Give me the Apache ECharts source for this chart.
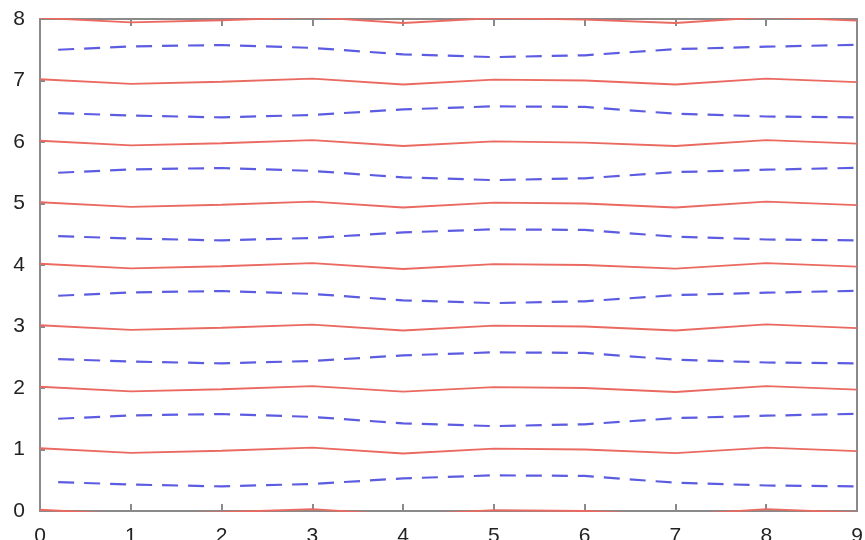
<!DOCTYPE html>
<html>
<head>
<meta charset="utf-8">
<script src="https://cdn.jsdelivr.net/npm/echarts@6/dist/echarts.min.js"></script>
<style>html,body{margin:0;padding:0;background:#fff;}#c{width:865px;height:540px;}</style>
</head>
<body>
<div id="c"></div>
<script>
// x positions of the points
var redX = [0, 1, 2, 3, 4, 5, 6, 7, 8, 9];
var blueX = [0.2, 1, 2, 3, 4, 5, 6, 7, 8, 9];

// red solid lines (near integer levels)
var red0 = [0.02, -0.055, -0.02, 0.03, -0.065, 0.015, 0.0, -0.065, 0.03, -0.025];
var red1 = [1.02, 0.945, 0.98, 1.03, 0.935, 1.015, 1.0, 0.94, 1.03, 0.975];
var red2 = [2.02, 1.945, 1.98, 2.03, 1.94, 2.015, 2.0, 1.935, 2.03, 1.975];
var red3 = [3.02, 2.945, 2.98, 3.03, 2.935, 3.015, 3.0, 2.935, 3.035, 2.975];
var red4 = [4.02, 3.945, 3.98, 4.03, 3.935, 4.015, 4.0, 3.94, 4.03, 3.975];
var red5 = [5.02, 4.945, 4.98, 5.03, 4.935, 5.015, 5.0, 4.935, 5.03, 4.975];
var red6 = [6.02, 5.945, 5.98, 6.03, 5.935, 6.01, 5.99, 5.935, 6.03, 5.975];
var red7 = [7.02, 6.945, 6.98, 7.03, 6.935, 7.015, 7.0, 6.935, 7.03, 6.975];
var red8 = [8.02, 7.945, 7.98, 8.03, 7.935, 8.015, 7.99, 7.935, 8.03, 7.975];

// blue dashed lines (near half-integer levels)
var blue05 = [0.47, 0.43, 0.40, 0.44, 0.53, 0.58, 0.57, 0.46, 0.415, 0.40];
var blue15 = [1.50, 1.555, 1.577, 1.53, 1.425, 1.38, 1.41, 1.51, 1.55, 1.58];
var blue25 = [2.47, 2.43, 2.40, 2.44, 2.53, 2.58, 2.57, 2.46, 2.415, 2.40];
var blue35 = [3.50, 3.555, 3.577, 3.53, 3.425, 3.38, 3.41, 3.51, 3.55, 3.58];
var blue45 = [4.47, 4.43, 4.40, 4.44, 4.53, 4.58, 4.57, 4.46, 4.415, 4.40];
var blue55 = [5.50, 5.555, 5.577, 5.53, 5.425, 5.38, 5.41, 5.51, 5.55, 5.58];
var blue65 = [6.47, 6.43, 6.40, 6.44, 6.53, 6.58, 6.57, 6.46, 6.415, 6.40];
var blue75 = [7.50, 7.555, 7.577, 7.53, 7.425, 7.38, 7.41, 7.51, 7.55, 7.58];

var xTicks = [0, 1, 2, 3, 4, 5, 6, 7, 8, 9];
var yTicks = [0, 1, 2, 3, 4, 5, 6, 7, 8];

var redLines = [red0, red1, red2, red3, red4, red5, red6, red7, red8];
var blueLines = [blue05, blue15, blue25, blue35, blue45, blue55, blue65, blue75];

function pairs(xs, ys) { return ys.map(function (v, i) { return [xs[i], v]; }); }

var series = [];
blueLines.forEach(function (b) {
  series.push({
    type: 'line', data: pairs(blueX, b), showSymbol: false, silent: true, clip: true,
    lineStyle: { color: '#5c5ce2', width: 2.2, type: [16, 10] }
  });
});
redLines.forEach(function (r) {
  series.push({
    type: 'line', data: pairs(redX, r), showSymbol: false, silent: true, clip: true,
    lineStyle: { color: '#ea6a62', width: 1.8 }
  });
});

var axisLineStyle = { color: '#8a8a8a', width: 2 };
var labelFont = { fontFamily: 'Liberation Sans', fontSize: 21, color: '#222' };

var chart = echarts.init(document.getElementById('c'), null, { renderer: 'canvas' });
chart.setOption({
  animation: false,
  backgroundColor: '#ffffff',
  grid: { left: 40, right: 8, top: 19, bottom: 29, containLabel: false, outerBoundsMode: 'none' },
  xAxis: [{
    type: 'value', min: xTicks[0], max: xTicks[xTicks.length - 1], interval: 1, position: 'bottom',
    axisLine: { show: true, onZero: false, lineStyle: axisLineStyle },
    axisTick: { show: true, inside: true, length: 7, lineStyle: axisLineStyle },
    axisLabel: Object.assign({ margin: 15, showMinLabel: true, showMaxLabel: true }, labelFont),
    splitLine: { show: false }
  }, {
    type: 'value', min: xTicks[0], max: xTicks[xTicks.length - 1], interval: 1, position: 'top',
    axisLine: { show: true, onZero: false, lineStyle: axisLineStyle },
    axisTick: { show: true, inside: true, length: 7, lineStyle: axisLineStyle },
    axisLabel: { show: false },
    splitLine: { show: false }
  }],
  yAxis: [{
    type: 'value', min: yTicks[0], max: yTicks[yTicks.length - 1], interval: 1, position: 'left',
    axisLine: { show: true, onZero: false, lineStyle: axisLineStyle },
    axisTick: { show: true, inside: true, length: 5, lineStyle: axisLineStyle },
    axisLabel: Object.assign({ margin: 15, showMinLabel: true, showMaxLabel: true }, labelFont),
    splitLine: { show: false }
  }, {
    type: 'value', min: yTicks[0], max: yTicks[yTicks.length - 1], interval: 1, position: 'right',
    axisLine: { show: true, onZero: false, lineStyle: axisLineStyle },
    axisTick: { show: false },
    axisLabel: { show: false },
    splitLine: { show: false }
  }],
  series: series
});
</script>
</body>
</html>
